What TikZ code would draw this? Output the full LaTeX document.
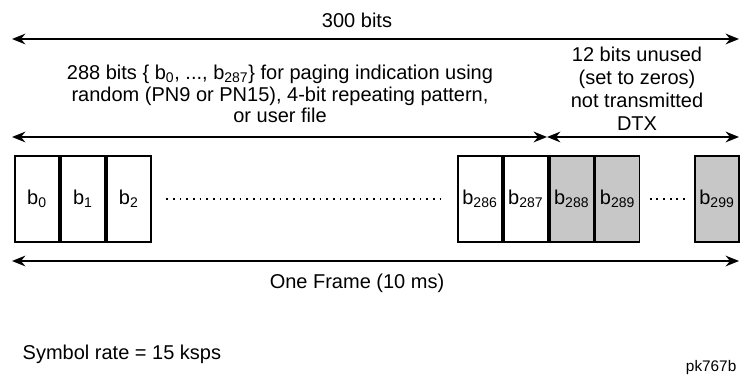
\documentclass[tikz,border=0pt]{standalone}
\usepackage{fontspec}
\setmainfont{Liberation Sans}
\usepackage{tikz}
\usetikzlibrary{arrows.meta}
\usetikzlibrary{positioning}

\begin{document}
\begin{tikzpicture}[
  x=0.75pt, y=-0.75pt,
  every node/.style={font=\fontsize{15}{16.2}\selectfont},
  bitbox/.style={draw,line width=1.4pt,minimum width=33pt,minimum height=64.5pt,inner sep=0pt,anchor=west},
  unused/.style={bitbox,fill=black!22},
  span/.style={line width=1.5pt,{Stealth[length=10pt,width=8pt]}-{Stealth[length=10pt,width=8pt]}}
]
\useasboundingbox (0,0) rectangle (741,377);

% bit boxes
\node[bitbox] (b0) at (14,199) {b\textsubscript{0}};
\node[bitbox] (b1) at (b0.east) {b\textsubscript{1}};
\node[bitbox] (b2) at (b1.east) {b\textsubscript{2}};
\node[bitbox] (b286) at (457,199) {b\textsubscript{286}};
\node[bitbox] (b287) at (b286.east) {b\textsubscript{287}};
\node[unused] (b288) at (b287.east) {b\textsubscript{288}};
\node[unused] (b289) at (b288.east) {b\textsubscript{289}};
\node[unused] (b299) at (694,199) {b\textsubscript{299}};

% dots between boxes
\draw[line width=1.4pt,dash pattern=on 1.4pt off 3.6pt] ([xshift=11pt]b2.east) -- ([xshift=-9pt]b286.west);
\draw[line width=1.4pt,dash pattern=on 1.4pt off 3.6pt] ([xshift=7pt]b289.east) -- ([xshift=-6pt]b299.west);

% end points of the spans
\coordinate (topL) at (12,39);
\coordinate (topR) at (739,39);
\coordinate (midL) at (12,137);
\coordinate (midM) at (547,137);
\coordinate (midR) at (739,137);
\coordinate (botL) at (12,261);
\coordinate (botR) at (739,261);

\draw[span] (topL) -- (topR);
\draw[span] (midL) -- (midM);
\draw[span] (midM) -- (midR);
\draw[span] (botL) -- (botR);

% labels
\node (total) at (357,20) {300 bits};
\node[align=center] (used) at (280,94)
  {288 bits \{ b\textsubscript{0}, ..., b\textsubscript{287}\} for paging indication using\\
   random (PN9 or PN15), 4-bit repeating pattern,\\ or user file};
\node[align=center,font=\fontsize{15}{17.2}\selectfont] (spare) at (637,89)
  {12 bits unused\\ (set to zeros)\\ not transmitted\\ DTX};
\node (frame) at (357,283) {One Frame (10 ms)};
\node[anchor=west] (rate) at (18,354) {Symbol rate = 15 ksps};
\node[anchor=east,font=\fontsize{11.5}{13}\selectfont] (tag) at (741,368) {pk767b};
\end{tikzpicture}
\end{document}
